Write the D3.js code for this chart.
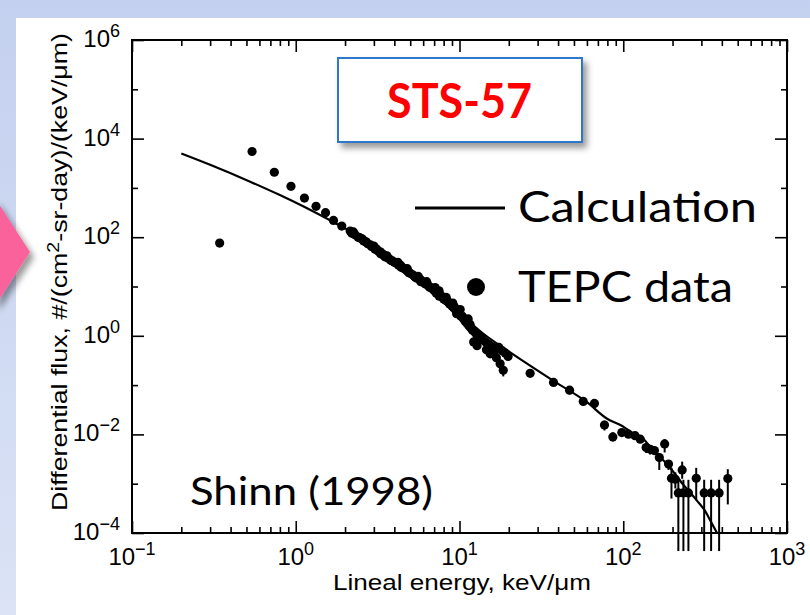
<!DOCTYPE html>
<html><head><meta charset="utf-8">
<script src="https://cdn.jsdelivr.net/npm/d3@7"></script>
<style>body{margin:0;background:#fff}svg{display:block}</style>
</head><body><svg id="c" width="810" height="615"></svg>
<script>
// ---------- data ----------
const calcX = [0.2, 0.3, 0.527, 0.8, 1.117, 2, 2.85, 5, 7.6, 10, 14, 20.4, 37.3, 60, 79.7, 98, 115, 127, 152, 185, 230, 281, 316, 340, 374];
const calcY = [4980, 2940, 1335, 714, 418, 151, 80, 20, 6.8, 2.9, 1.1, 0.46, 0.123, 0.045, 0.0208, 0.015, 0.0105, 0.0092, 0.0048, 0.0025, 0.001, 0.00046, 0.00028, 0.00018, 0.0001];

const tepcX = [0.343, 0.541, 0.74, 0.935, 1.13, 1.33, 1.52, 1.70, 1.91, 2.15, 2.2, 2.3, 2.45, 2.5, 2.6, 2.7, 2.75, 2.9, 3.05, 3.1, 3.2, 3.4, 3.5, 3.6, 3.8, 3.9, 4.0, 4.25, 4.4, 4.5, 4.75, 4.9, 5.0, 5.3, 5.4, 5.6, 5.9, 6.0, 6.2, 6.4, 6.6, 6.8, 7.0, 7.2, 7.4, 7.6, 7.8, 8.0, 8.2, 8.5, 8.7, 9.0, 9.2, 9.5, 9.7, 10.0, 10.2, 10.5, 10.8, 11.1, 11.4, 11.7, 12.0, 12.2, 12.7, 12.8, 13.3, 13.9, 14.5, 14.6, 15.2, 15.4, 15.9, 16.6, 16.8, 17.4, 17.7, 18.2, 18.5, 19.0, 19.8, 27, 37.5, 47, 57, 66.7, 76.8, 86.4, 98, 107.6, 118, 127, 138, 146, 155, 166, 179, 189, 197, 208, 217, 229, 233, 250, 279, 312, 344, 385, 435,
  2.25, 2.4, 2.55, 2.65, 2.85, 3.0, 3.15, 3.3, 3.45, 3.7, 4.1, 4.3, 4.6, 4.85, 5.15, 5.5, 5.75, 6.1, 6.5, 6.9, 7.3, 7.7, 8.1, 8.4, 8.9, 9.3, 9.8, 10.4, 11.0, 11.6, 12.4, 13.0, 13.6,
  3.0, 3.6, 4.2, 4.8, 5.6, 6.3, 7.1, 7.5, 8.3, 9.1, 10.1, 11.3, 3.3, 4.4, 5.8, 7.5, 9.6];
const tepcY = [76, 5470, 2075, 1078, 623, 423, 315, 219, 168, 133, 120, 112, 98, 95, 84, 80, 74, 65, 57, 58, 52, 45, 40, 39, 34, 33, 31, 27, 24.5, 24, 21, 19, 18.5, 16.2, 15, 14.6, 12.8, 12.2, 11.2, 10.8, 9.6, 9.2, 8.3, 7.4, 7.2, 6.9, 6.2, 5.6, 5.3, 4.9, 4.4, 4.0, 3.7, 3.3, 3.0, 2.7, 2.5, 2.3, 2.0, 1.8, 1.6, 1.45, 1.3, 0.75, 1.08, 0.63, 0.95, 0.82, 0.74, 0.52, 0.66, 0.43, 0.6, 0.53, 0.36, 0.58, 0.27, 0.5, 0.2, 0.45, 0.38, 0.173, 0.1135, 0.079, 0.0467, 0.0425, 0.0155, 0.0089, 0.0109, 0.0101, 0.0094, 0.008, 0.0054, 0.005, 0.0047, 0.0034, 0.0064, 0.0025, 0.00129, 0.00123, 0.00065, 0.0019, 0.00065, 0.00065, 0.00129, 0.00065, 0.00065, 0.00065, 0.00127,
  128, 100, 92, 82, 70, 62, 55, 50, 44, 37, 30, 28, 23, 20.5, 17.5, 15.2, 14, 12, 10, 8.8, 7.8, 6.5, 5.9, 5.0, 4.3, 3.9, 3.2, 2.5, 2.1, 1.7, 1.2, 1.0, 0.9,
  66, 42, 31, 23, 16, 12.5, 9.5, 8.2, 6.0, 4.6, 3.4, 2.2, 46, 26, 12.5, 6.4, 2.8];

const errX  = [17.7, 18.5, 47, 57, 66.7, 76.8, 86.4, 98, 138, 146, 166, 179, 189, 197, 208, 217, 229, 233, 250, 279, 312, 344, 385, 435];
const errLo = [0.2, 0.15, 0.065, 0.038, 0.035, 0.012, 0.0072, 0.009, 0.0042, 0.0039, 0.0019, 0.0043, 0.0019, 0.0005, 0.0008, 4.3e-5, 0.00126, 4.3e-5, 4.3e-5, 0.00046, 4.3e-5, 4.3e-5, 4.3e-5, 0.00038];
const errHi = [0.3, 0.22, 0.095, 0.057, 0.052, 0.019, 0.011, 0.013, 0.0066, 0.006, 0.0042, 0.008, 0.003, 0.0021, 0.0017, 0.0012, 0.0028, 0.0012, 0.0012, 0.0021, 0.0012, 0.0012, 0.0012, 0.00197];

const xTickValues = [0.1, 1, 10, 100, 1000];
const xTickExp = ["\u22121", "0", "1", "2", "3"];
const yTickValues = [1e-4, 1e-2, 1, 1e2, 1e4, 1e6];
const yTickExp = ["\u22124", "\u22122", "0", "2", "4", "6"];
const yMinorValues = [1e-3, 1e-1, 10, 1e3, 1e5];

const titleText = "STS-57";
const legendLabels = ["Calculation", "TEPC data"];
const sourceText = "Shinn (1998)";
const xTitle = "Lineal energy, keV/\u03bcm";

// ---------- drawing ----------
const svg = d3.select("#c");
const defs = svg.append("defs");
const gr = defs.append("linearGradient").attr("id", "bg").attr("x1", 0).attr("y1", 0).attr("x2", 0).attr("y2", 1);
gr.append("stop").attr("offset", "0").attr("stop-color", "#c3d0ef");
gr.append("stop").attr("offset", "1").attr("stop-color", "#dbe3f5");
const f = defs.append("filter").attr("id", "sh").attr("x", "-30%").attr("y", "-30%").attr("width", "160%").attr("height", "160%");
f.append("feDropShadow").attr("dx", 4).attr("dy", 5).attr("stdDeviation", 3).attr("flood-color", "#000").attr("flood-opacity", 0.4);

svg.append("rect").attr("width", 810).attr("height", 615).attr("fill", "url(#bg)");
svg.append("rect").attr("x", 16).attr("y", 18).attr("width", 794).attr("height", 597).attr("fill", "#fff");
svg.append("path").attr("d", "M-5,198 L30,252 L-5,306 Z").attr("fill", "#fa629c").attr("filter", "url(#sh)");

const x = d3.scaleLog().domain([0.1, 1000]).range([132, 787]);
const y = d3.scaleLog().domain([1e-4, 1e6]).range([533, 40]);

const xMinor = [];
[0.1, 1, 10, 100].forEach(d => { for (let k = 2; k <= 9; k++) xMinor.push(d * k); });

function styleAxis(g) {
  g.select(".domain").remove();
  g.selectAll(".tick line").attr("stroke", "#000").attr("stroke-width", 1.6);
  g.selectAll(".tick text").remove();
}
const axes = svg.append("g");
axes.append("g").attr("transform", "translate(0,533)").call(d3.axisBottom(x).tickValues(xTickValues).tickSize(-12).tickFormat("")).call(styleAxis);
axes.append("g").attr("transform", "translate(0,533)").call(d3.axisBottom(x).tickValues(xMinor).tickSize(-6).tickFormat("")).call(styleAxis);
axes.append("g").attr("transform", "translate(0,40)").call(d3.axisTop(x).tickValues(xTickValues).tickSize(-12).tickFormat("")).call(styleAxis);
axes.append("g").attr("transform", "translate(0,40)").call(d3.axisTop(x).tickValues(xMinor).tickSize(-6).tickFormat("")).call(styleAxis);
axes.append("g").attr("transform", "translate(132,0)").call(d3.axisLeft(y).tickValues(yTickValues).tickSize(-12).tickFormat("")).call(styleAxis);
axes.append("g").attr("transform", "translate(132,0)").call(d3.axisLeft(y).tickValues(yMinorValues).tickSize(-6).tickFormat("")).call(styleAxis);
axes.append("g").attr("transform", "translate(787,0)").call(d3.axisRight(y).tickValues(yTickValues).tickSize(-12).tickFormat("")).call(styleAxis);
axes.append("g").attr("transform", "translate(787,0)").call(d3.axisRight(y).tickValues(yMinorValues).tickSize(-6).tickFormat("")).call(styleAxis);

svg.append("rect").attr("x", 132).attr("y", 40).attr("width", 655).attr("height", 493)
  .attr("fill", "none").attr("stroke", "#000").attr("stroke-width", 2);

const FONT = "'Liberation Sans', Arial, sans-serif";
xTickValues.forEach((v, i) => {
  const t = svg.append("text").attr("x", x(v)).attr("y", 565).attr("text-anchor", "middle")
    .attr("font-family", FONT).attr("font-size", 24).attr("fill", "#000");
  t.append("tspan").text("10");
  t.append("tspan").attr("font-size", 18).attr("dy", -10).text(xTickExp[i]);
});
yTickValues.forEach((v, i) => {
  const t = svg.append("text").attr("x", 120).attr("y", y(v) + 7).attr("text-anchor", "end")
    .attr("font-family", FONT).attr("font-size", 24).attr("fill", "#000");
  t.append("tspan").text("10");
  t.append("tspan").attr("font-size", 18).attr("dy", -10).text(yTickExp[i]);
});
svg.append("text").attr("x", 462).attr("y", 590).attr("text-anchor", "middle")
  .attr("font-family", FONT).attr("font-size", 22).attr("textLength", 258).attr("lengthAdjust", "spacingAndGlyphs").text(xTitle);
const yt = svg.append("text").attr("transform", "translate(67,272) rotate(-90)").attr("text-anchor", "middle")
  .attr("font-family", FONT).attr("font-size", 22).attr("textLength", 478).attr("lengthAdjust", "spacingAndGlyphs");
yt.append("tspan").text("Differential flux, #/(cm");
yt.append("tspan").attr("font-size", 16).attr("dy", -8).text("2");
yt.append("tspan").attr("dy", 8).text("-sr-day)/(keV/\u03bcm)");

const calc = calcX.map((v, i) => [v, calcY[i]]);
svg.append("path").datum(calc)
  .attr("d", d3.line().x(d => x(d[0])).y(d => y(d[1])).curve(d3.curveMonotoneX))
  .attr("fill", "none").attr("stroke", "#000").attr("stroke-width", 2.2);

svg.append("g").selectAll("line").data(errX).join("line")
  .attr("x1", d => x(d)).attr("x2", d => x(d))
  .attr("y1", (d, i) => y(errHi[i])).attr("y2", (d, i) => y(errLo[i]))
  .attr("stroke", "#000").attr("stroke-width", 2);

svg.append("g").selectAll("circle").data(tepcX).join("circle")
  .attr("cx", d => x(d)).attr("cy", (d, i) => y(tepcY[i])).attr("r", 4.6).attr("fill", "#000");

svg.append("rect").attr("x", 338).attr("y", 58).attr("width", 244).attr("height", 84)
  .attr("fill", "#fff").attr("stroke", "#2f78cc").attr("stroke-width", 2).attr("filter", "url(#sh)");
svg.append("text").attr("x", 387).attr("y", 118).attr("font-family", "Lato, 'Open Sans', sans-serif")
  .attr("font-weight", "bold").attr("font-size", 48).attr("fill", "#ff0000")
  .attr("textLength", 145).attr("lengthAdjust", "spacingAndGlyphs").text(titleText);

const LF = "Lato, 'Open Sans', sans-serif";
svg.append("line").attr("x1", 415).attr("x2", 505).attr("y1", 208).attr("y2", 208).attr("stroke", "#000").attr("stroke-width", 3);
svg.append("circle").attr("cx", 476).attr("cy", 287).attr("r", 9).attr("fill", "#000");
svg.append("text").attr("x", 518).attr("y", 222).attr("font-family", LF).attr("font-size", 42)
  .attr("textLength", 239).attr("lengthAdjust", "spacingAndGlyphs").text(legendLabels[0]);
svg.append("text").attr("x", 518).attr("y", 302).attr("font-family", LF).attr("font-size", 42)
  .attr("textLength", 215).attr("lengthAdjust", "spacingAndGlyphs").text(legendLabels[1]);
svg.append("text").attr("x", 190).attr("y", 505).attr("font-family", LF).attr("font-size", 38)
  .attr("textLength", 243).attr("lengthAdjust", "spacingAndGlyphs").text(sourceText);
</script></body></html>
